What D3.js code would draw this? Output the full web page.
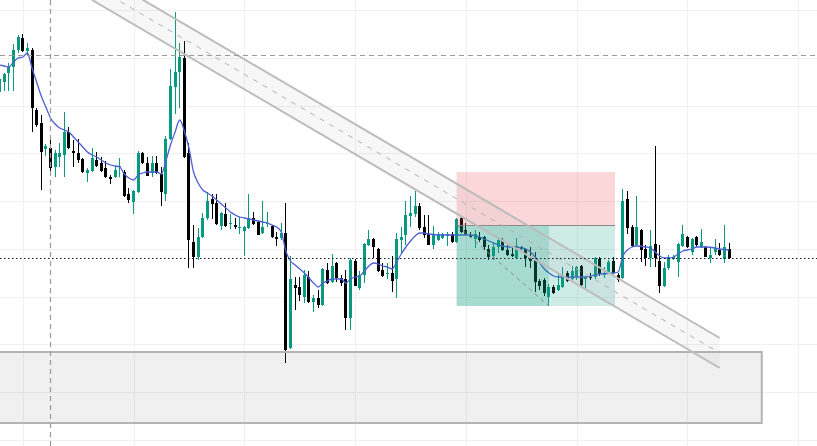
<!DOCTYPE html>
<html>
<head>
<meta charset="utf-8">
<script src="https://cdn.jsdelivr.net/npm/d3@7"></script>
<style>
  html, body { margin: 0; padding: 0; background: #fff; overflow: hidden; }
  svg { display: block; }
</style>
</head>
<body>
<div id="chart"></div>
<script>
// Candles, oldest first (price in chart points)
const open = [354,364,373,379,396,408,395,396,336,323, 297,298,279,289,291,314,295,293,287,273,
  275,286,283,278,269,269,279,274,252,244, 254,293,283,273,283,272,252,307,359,374,
  388,293,204,189,209,228,247,243,220,232, 222,221,218,215,218,228,224,213,222,220,
  209,208,213,98,161,159,149,169,144,148, 141,176,164,183,168,167,128,185,158,171,
  201,207,197,176,172,173,167,206,211,230, 232,240,219,212,201,206,208,210,212,204,
  228,216,211,207,209,209,197,190,199,206, 196,192,188,199,197,187,187,165,166,149,
  159,156,159,173,167,169,180,167,169,169, 187,171,174,185,171,168,247,219,201,216,
  197,188,202,185,160,178,187,184,200,209, 194,209,199,199,188,194,196,187,197];
const high = [369,373,383,402,411,412,403,398,338,331, 302,310,296,303,334,319,306,307,288,278,
  298,294,289,285,271,280,288,276,258,256, 295,294,289,290,290,279,310,377,434,403,
  405,303,221,218,233,254,252,252,234,243, 232,228,229,220,252,234,225,245,234,221,
  214,223,243,190,169,169,176,175,151,156, 178,183,192,184,171,176,188,187,175,203,
  216,208,198,183,183,190,213,219,245,250, 255,243,231,231,220,214,213,214,214,228,
  229,223,214,216,214,210,201,204,209,208, 201,199,208,200,198,199,194,167,168,162,
  161,173,179,175,180,180,181,170,173,189, 189,179,186,189,173,257,255,221,250,217,
  201,216,300,201,184,191,191,203,221,210, 208,210,217,200,198,207,203,221,203];
const low = [354,355,355,355,393,394,391,314,319,256, 290,274,269,279,269,297,279,283,273,264,
  274,279,274,268,262,268,269,249,243,232, 253,282,270,269,272,240,245,306,332,338,
  288,178,178,186,208,226,227,221,216,219, 217,217,212,190,217,221,211,212,219,208,
  200,206,83,97,136,145,143,143,134,138, 140,162,163,164,160,116,116,160,156,163,
  200,188,174,169,167,154,148,192,201,219, 229,216,208,201,197,205,207,200,203,203,
  213,211,208,198,204,196,186,186,193,195, 190,189,187,196,179,178,154,156,150,141,
  152,155,158,164,166,166,160,156,166,167, 170,168,172,172,164,167,212,199,200,184,
  180,179,179,153,159,176,186,169,199,198, 191,199,198,189,183,191,190,183,187];
const close = [367,372,379,396,409,395,398,338,321,294, 300,278,293,293,314,298,293,286,274,276,
  288,280,275,269,267,276,280,250,246,255, 293,283,270,283,273,254,307,360,374,389,
  289,206,189,209,228,245,242,222,233,220, 223,219,219,219,228,222,211,219,223,209,
  207,213,96,167,158,151,171,144,148,141, 177,163,180,168,163,128,186,160,171,202,
  207,199,175,170,173,165,207,209,231,233, 240,218,211,201,212,212,212,212,204,227,
  214,212,209,212,206,199,189,199,206,196, 191,190,200,197,188,185,164,160,153,159,
  153,161,171,165,175,179,161,169,168,188, 172,173,184,173,166,245,218,200,219,196,
  188,200,188,160,178,189,189,202,212,199, 207,201,204,189,191,198,191,199,188];

// Moving average as [candle index, value]
const maLine = [[0,381],[1,380],[2,379],[3,384],[4,388],[5,389],[6,393],[7,378],[8,364],[9,350],
  [10,339],[11,328],[12,322],[13,318],[14,316],[15,314],[16,309],[17,304],[18,299],[19,294],
  [20,291],[21,289],[22,286],[23,283],[24,281],[25,280],[26,279],[27,272],[28,268],[29,266],
  [30,271],[31,273],[32,274],[34,274],[35,272],[36,285],[37,301],[38,314],[39,326],[40,315],
  [41,298],[42,274],[43,263],[44,256],[45,253],[46,250],[47,246],[48,242],[49,238],[50,234],
  [51,231],[52,229],[53,228],[54,227],[55,226],[56,225],[57,224],[58,223],[59,221],[60,219],
  [61,214],[62,195],[63,185],[64,181],[65,177],[66,173],[67,168],[68,163],[69,159],[70,163],
  [71,165],[72,167],[74,167],[75,163],[76,167],[77,169],[78,170],[79,175],[80,180],[81,183],
  [82,182],[83,180],[84,179],[85,177],[86,184],[87,192],[88,199],[89,205],[90,210],[91,213],
  [92,213],[93,212],[96,211],[100,211],[102,211],[104,209],[105,207],[106,205],[107,203],[108,201],
  [109,200],[110,199],[112,199],[113,198],[114,197],[115,194],[116,189],[117,183],[118,177],[119,173],
  [120,170],[121,169],[124,169],[127,169],[128,170],[129,171],[130,172],[133,173],[134,174],[135,190],
  [136,196],[137,199],[138,200],[140,199],[141,198],[142,194],[143,190],[144,188],[145,188],[146,189],
  [147,192],[148,195],[149,196],[150,197],[151,199],[153,199],[155,198],[156,197],[158,196]];

// Grid
const gridCandles = [5, 29, 53, 77, 101, 125, 149, 173];
const gridLevels = [436, 388, 340, 293, 245, 197, 149, 102, 54, 6];

// Drawings
const hLevel = 391;          // dashed horizontal
const vCandle = 11;          // dashed vertical
const channel = { i0: 20, v0: 476, i1: 156, v1: 108, width: 30 };
const position = { i0: 99, i1: 133.3, hitIdx: 119, entry: 221, stop: 274, target: 140 };
const zone = { i0: -5, i1: 165.1, top: 94, bottom: 23 };

const W = 817, H = 446;
const x = d3.scaleLinear().domain([0, 158]).range([-0.3, 729]);
const y = d3.scaleLinear().domain([0, 446]).range([446, 0]);
const px = v => Math.round(v) + 0.5;

const svg = d3.select("#chart").append("svg")
    .attr("width", W).attr("height", H)
    .style("background", "#fff");

// grid lines
const grid = svg.append("g").attr("stroke", "#f0f0f0").attr("stroke-width", 1);
grid.selectAll("line.v").data(gridCandles).join("line")
    .attr("x1", d => px(x(d))).attr("x2", d => px(x(d)))
    .attr("y1", 0).attr("y2", H);
grid.selectAll("line.h").data(gridLevels).join("line")
    .attr("x1", 0).attr("x2", W)
    .attr("y1", d => px(y(d))).attr("y2", d => px(y(d)));

// candles
const candles = d3.range(open.length).map(i => ({
    i: i, o: open[i], h: high[i], l: low[i], c: close[i]
}));
const up = "#089981", down = "#000000";
const cg = svg.append("g");
const bars = cg.selectAll("g").data(candles).join("g")
    .attr("fill", d => d.c >= d.o ? up : down);
bars.append("rect")
    .attr("x", d => Math.round(x(d.i) - 1.5) + 1)
    .attr("width", 1)
    .attr("y", d => y(d.h))
    .attr("height", d => y(d.l) - y(d.h));
bars.append("rect")
    .attr("x", d => Math.round(x(d.i) - 1.5))
    .attr("width", 3)
    .attr("y", d => y(Math.max(d.o, d.c)))
    .attr("height", d => Math.max(1, Math.abs(y(d.o) - y(d.c))));

// moving average
svg.append("path")
    .datum(maLine)
    .attr("fill", "none")
    .attr("stroke", "#4f5fd8")
    .attr("stroke-width", 1.3)
    .attr("d", d3.line().x(d => x(d[0])).y(d => y(d[1])).curve(d3.curveMonotoneX));

// grey zone
svg.append("rect")
    .attr("x", x(zone.i0)).attr("y", y(zone.top))
    .attr("width", x(zone.i1) - x(zone.i0))
    .attr("height", y(zone.bottom) - y(zone.top))
    .attr("fill", "rgba(120,120,120,0.11)")
    .attr("stroke", "#b4b4b4").attr("stroke-width", 2);

// position tool
const pg = svg.append("g");
pg.append("rect")
    .attr("x", x(position.i0)).attr("y", y(position.stop))
    .attr("width", x(position.i1) - x(position.i0))
    .attr("height", y(position.entry) - y(position.stop))
    .attr("fill", "rgba(242,54,69,0.2)");
pg.append("rect")
    .attr("x", x(position.i0)).attr("y", y(position.entry))
    .attr("width", x(position.i1) - x(position.i0))
    .attr("height", y(position.target) - y(position.entry))
    .attr("fill", "rgba(8,153,129,0.2)");
pg.append("rect")
    .attr("x", x(position.i0)).attr("y", y(position.entry))
    .attr("width", x(position.hitIdx) - x(position.i0))
    .attr("height", y(position.target) - y(position.entry))
    .attr("fill", "rgba(8,153,129,0.2)");
pg.append("line")
    .attr("x1", x(position.i0)).attr("x2", x(position.i1))
    .attr("y1", px(y(position.entry))).attr("y2", px(y(position.entry)))
    .attr("stroke", "#8a8a8a").attr("stroke-width", 1);
pg.append("line")
    .attr("x1", x(position.i0)).attr("y1", y(position.entry))
    .attr("x2", x(position.hitIdx)).attr("y2", y(position.target))
    .attr("stroke", "#8a8a8a").attr("stroke-width", 1)
    .attr("stroke-dasharray", "4,4");

// parallel channel
const ch = svg.append("g");
const upper = [[channel.i0, channel.v0], [channel.i1, channel.v1]];
const lower = upper.map(p => [p[0], p[1] - channel.width]);
const mid = upper.map(p => [p[0], p[1] - channel.width / 2]);
const toPts = pts => pts.map(p => [x(p[0]), y(p[1])]);
ch.append("path")
    .attr("d", d3.line()(toPts(upper.concat(lower.slice().reverse()))) + "Z")
    .attr("fill", "rgba(150,150,150,0.08)");
[upper, lower].forEach(l => {
    ch.append("path").attr("d", d3.line()(toPts(l)))
        .attr("fill", "none").attr("stroke", "#bcbcbc").attr("stroke-width", 2);
});
ch.append("path").attr("d", d3.line()(toPts(mid)))
    .attr("fill", "none").attr("stroke", "#b0b0b0").attr("stroke-width", 1)
    .attr("stroke-dasharray", "5,6");

// horizontal and vertical dashed lines
svg.append("line")
    .attr("x1", 0).attr("x2", W)
    .attr("y1", px(y(hLevel))).attr("y2", px(y(hLevel)))
    .attr("stroke", "#9a9a9a").attr("stroke-width", 1.2)
    .attr("stroke-dasharray", "5,4");
svg.append("line")
    .attr("x1", px(x(vCandle))).attr("x2", px(x(vCandle)))
    .attr("y1", 0).attr("y2", H)
    .attr("stroke", "#9a9a9a").attr("stroke-width", 1.2)
    .attr("stroke-dasharray", "5,4");

// last price line
const last = close[close.length - 1];
svg.append("line")
    .attr("x1", 0).attr("x2", W)
    .attr("y1", px(y(last))).attr("y2", px(y(last)))
    .attr("stroke", "#131722").attr("stroke-width", 1)
    .attr("stroke-dasharray", "1.5,2.5");
</script>
</body>
</html>
